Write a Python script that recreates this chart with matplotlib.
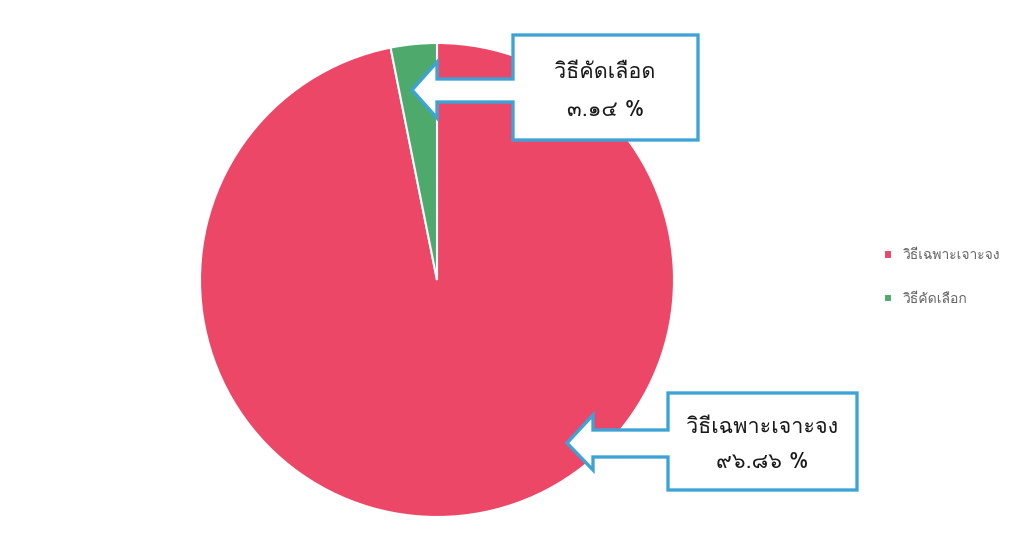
import matplotlib
matplotlib.use("Agg")
import matplotlib.pyplot as plt
from matplotlib import font_manager
from matplotlib.ft2font import FT2Font
from matplotlib.patches import Polygon

# data
labels = ["วิธีเฉพาะเจาะจง", "วิธีคัดเลือก"]
values = [96.86, 3.14]
callout_names = ["วิธีเฉพาะเจาะจง", "วิธีคัดเลือด"]
callout_values = ["๙๖.๘๖ %", "๓.๑๔ %"]
colors = ["#EC4767", "#4DAA6C"]

# find an installed font with Thai glyphs
thai_font = None
for f in font_manager.fontManager.ttflist:
    try:
        cm = FT2Font(f.fname).get_charmap()
    except Exception:
        continue
    if 0x0E27 in cm and 0x0E53 in cm:
        thai_font = f.name
        break
fams = [thai_font, "DejaVu Sans"] if thai_font else ["DejaVu Sans"]
plt.rcParams["font.family"] = fams

W, H = 1024, 545
fig = plt.figure(figsize=(W / 100, H / 100), dpi=100)

cx, cy, r = 437, 280, 237
ax = fig.add_axes([(cx - r) / W, (H - cy - r) / H, 2 * r / W, 2 * r / H])
wedges, _ = ax.pie(values, colors=colors, startangle=90, counterclock=False,
                   wedgeprops=dict(edgecolor="white", linewidth=1.5))
ax.set_xlim(-1, 1)
ax.set_ylim(-1, 1)
ax.set_aspect("equal")
ax.axis("off")

# overlay in pixel coords for callouts
ov = fig.add_axes([0, 0, 1, 1], facecolor="none")
ov.set_xlim(0, W)
ov.set_ylim(H, 0)
ov.axis("off")


def callout(box, tip, head_x, head_y, shaft_y, name, val):
    x0, y0, x1, y1 = box
    pts = [(x0, y0), (x1, y0), (x1, y1), (x0, y1),
           (x0, shaft_y[1]), (head_x, shaft_y[1]), (head_x, head_y[1]),
           tip, (head_x, head_y[0]), (head_x, shaft_y[0]), (x0, shaft_y[0])]
    ov.add_patch(Polygon(pts, closed=True, facecolor="white",
                         edgecolor="#3DA3D6", linewidth=2.4, joinstyle="miter"))
    xm = (x0 + x1) / 2
    ov.text(xm, y0 + (y1 - y0) * 0.36, name, ha="center", va="center",
            fontsize=15.5, color="#1a1a1a")
    ov.text(xm, y0 + (y1 - y0) * 0.72, val, ha="center", va="center",
            fontsize=15.5, color="#1a1a1a")


callout((513, 35, 698, 140), (412, 90), 437, (62, 118), (79, 102),
        callout_names[1], callout_values[1])
callout((668, 393, 857, 490), (567, 443), 593, (415, 470), (430, 457),
        callout_names[0], callout_values[0])

ax.legend(wedges, labels, loc="center left", bbox_to_anchor=(0.851, 0.49),
          bbox_transform=fig.transFigure, frameon=False, fontsize=10,
          labelcolor="#666666", handlelength=0.6, handleheight=0.6,
          labelspacing=2.25, handletextpad=0.8)

fig.savefig("out.png", dpi=100, facecolor="white")
